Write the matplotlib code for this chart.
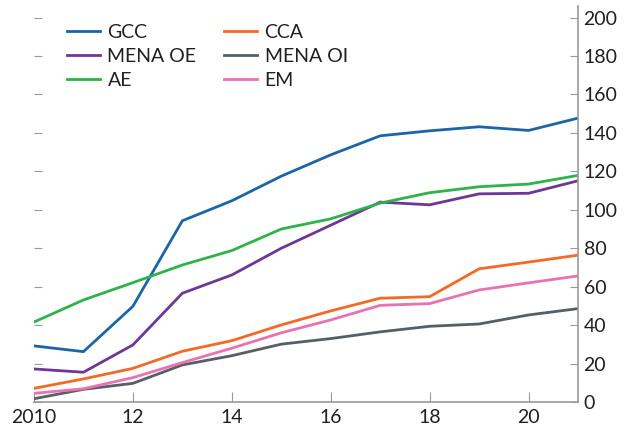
import matplotlib.pyplot as plt

years = [2010, 2011, 2012, 2013, 2014, 2015, 2016, 2017, 2018, 2019, 2020, 2021]
gcc = [29.2, 26.2, 49.8, 94.3, 104.7, 117.5, 128.6, 138.5, 141.1, 143.2, 141.3, 147.7]
cca = [7.1, 12.0, 17.5, 26.4, 31.9, 40.1, 47.4, 54.0, 54.8, 69.3, 72.8, 76.4]
mena_oe = [17.2, 15.5, 29.7, 56.6, 66.1, 80.0, 92.0, 104.0, 102.6, 108.3, 108.6, 115.1]
mena_oi = [1.7, 6.6, 9.7, 19.3, 24.1, 30.1, 33.0, 36.5, 39.4, 40.6, 45.3, 48.6]
ae = [41.6, 53.1, 62.1, 71.3, 78.8, 90.0, 95.3, 103.5, 108.9, 112.0, 113.4, 117.9]
em = [4.5, 6.9, 12.7, 20.5, 28.0, 36.0, 42.7, 50.3, 51.2, 58.3, 62.0, 65.6]

xticks = [2010, 2012, 2014, 2016, 2018, 2020]
xlabels = ['2010', '12', '14', '16', '18', '20']

plt.rcParams['font.family'] = ['Lato', 'DejaVu Sans']

fig = plt.figure(figsize=(6.27, 4.34), dpi=100)
ax = fig.add_axes([0.0542, 0.0737, 0.8677, 0.9123])

lw = 2.0
# column-wise order so the 2-col legend reads like the original
ax.plot(years, gcc, color='#1b65a6', lw=lw, label='GCC')
ax.plot(years, mena_oe, color='#6e3696', lw=lw, label='MENA OE')
ax.plot(years, ae, color='#2db34a', lw=lw, label='AE')
ax.plot(years, cca, color='#f26a23', lw=lw, label='CCA')
ax.plot(years, mena_oi, color='#585f64', lw=lw, label='MENA OI')
ax.plot(years, em, color='#e972b0', lw=lw, label='EM')

ax.set_xlim(2010, 2021)
ax.set_ylim(0, 206)
ax.set_yticks(range(0, 201, 20))
ax.set_xticks(xticks)
ax.set_xticklabels(xlabels)

for s in ['top', 'left']:
    ax.spines[s].set_visible(False)
for s in ['right', 'bottom']:
    ax.spines[s].set_color('#9a9a9a')
    ax.spines[s].set_linewidth(1.2)

ax.tick_params(axis='y', left=True, right=True, labelleft=False, labelright=True,
               direction='in', length=6, color='#9a9a9a', labelsize=14,
               labelcolor='#231f20', pad=4)
ax.tick_params(axis='x', direction='in', length=7, color='#9a9a9a', labelsize=14,
               labelcolor='#231f20', pad=5)

leg = ax.legend(ncol=2, loc='upper left', bbox_to_anchor=(0.035, 0.99), frameon=False,
                fontsize=14, handlelength=1.7, handletextpad=0.4, columnspacing=1.4,
                labelspacing=0.36, borderaxespad=0.3)
for t in leg.get_texts():
    t.set_color('#231f20')

fig.savefig('out.png', dpi=100)
